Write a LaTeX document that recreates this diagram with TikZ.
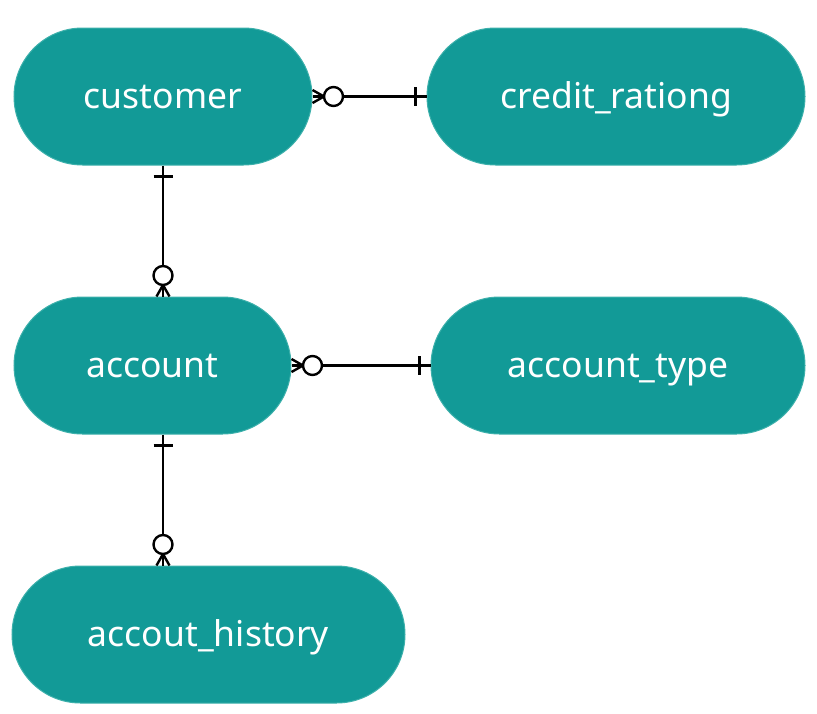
\documentclass[tikz,border=0pt]{standalone}
\usepackage{fontspec}
\setmainfont{Noto Sans}
\usetikzlibrary{shapes.misc,calc}
\definecolor{tealfill}{HTML}{129A97}
\definecolor{tealedge}{HTML}{3DB0AB}
\tikzset{
  x=1pt,y=1pt,
  entity/.style={rounded rectangle, fill=tealfill, draw=tealedge, line width=1pt,
    minimum height=137pt, inner sep=0pt, text=white, text height=24pt, text depth=0pt,
    font=\fontsize{35.5}{40}\selectfont},
  conn/.style={draw=black, line width=2.4pt},
  zeromany/.pic={
    \draw[conn] (0,-6.5) -- (11.5,0) -- (0,6.5);
    \draw[conn, fill=white] (21,0) circle (9.5);
  },
  onebar/.pic={
    \draw[conn] (11,-9.5) -- (11,9.5);
  }
}
\begin{document}
\begin{tikzpicture}
\useasboundingbox (0,0) rectangle (817,-713);
\node[entity, minimum width=298pt] (customer) at (163,-96.5) {customer};
\node[entity, minimum width=378pt] (credit) at (616,-96.5) {credit\_rationg};
\node[entity, minimum width=277pt] (account) at (152.5,-365.5) {account};
\node[entity, minimum width=374pt] (acctype) at (618,-365.5) {account\_type};
\node[entity, minimum width=393pt] (history) at (208.5,-634.5) {accout\_history};

\coordinate (v1a) at (customer.south);
\coordinate (v1b) at (customer.south |- account.north);
\coordinate (v2a) at (customer.south |- account.south);
\coordinate (v2b) at (customer.south |- history.north);

\draw[conn] (customer.east) -- (credit.west);
\pic at (customer.east) {zeromany};
\pic[rotate=180] at (credit.west) {onebar};

\draw[conn] (v1a) -- (v1b);
\pic[rotate=-90] at (v1a) {onebar};
\pic[rotate=90] at (v1b) {zeromany};

\draw[conn] (account.east) -- (acctype.west);
\pic at (account.east) {zeromany};
\pic[rotate=180] at (acctype.west) {onebar};

\draw[conn] (v2a) -- (v2b);
\pic[rotate=-90] at (v2a) {onebar};
\pic[rotate=90] at (v2b) {zeromany};
\end{tikzpicture}
\end{document}
